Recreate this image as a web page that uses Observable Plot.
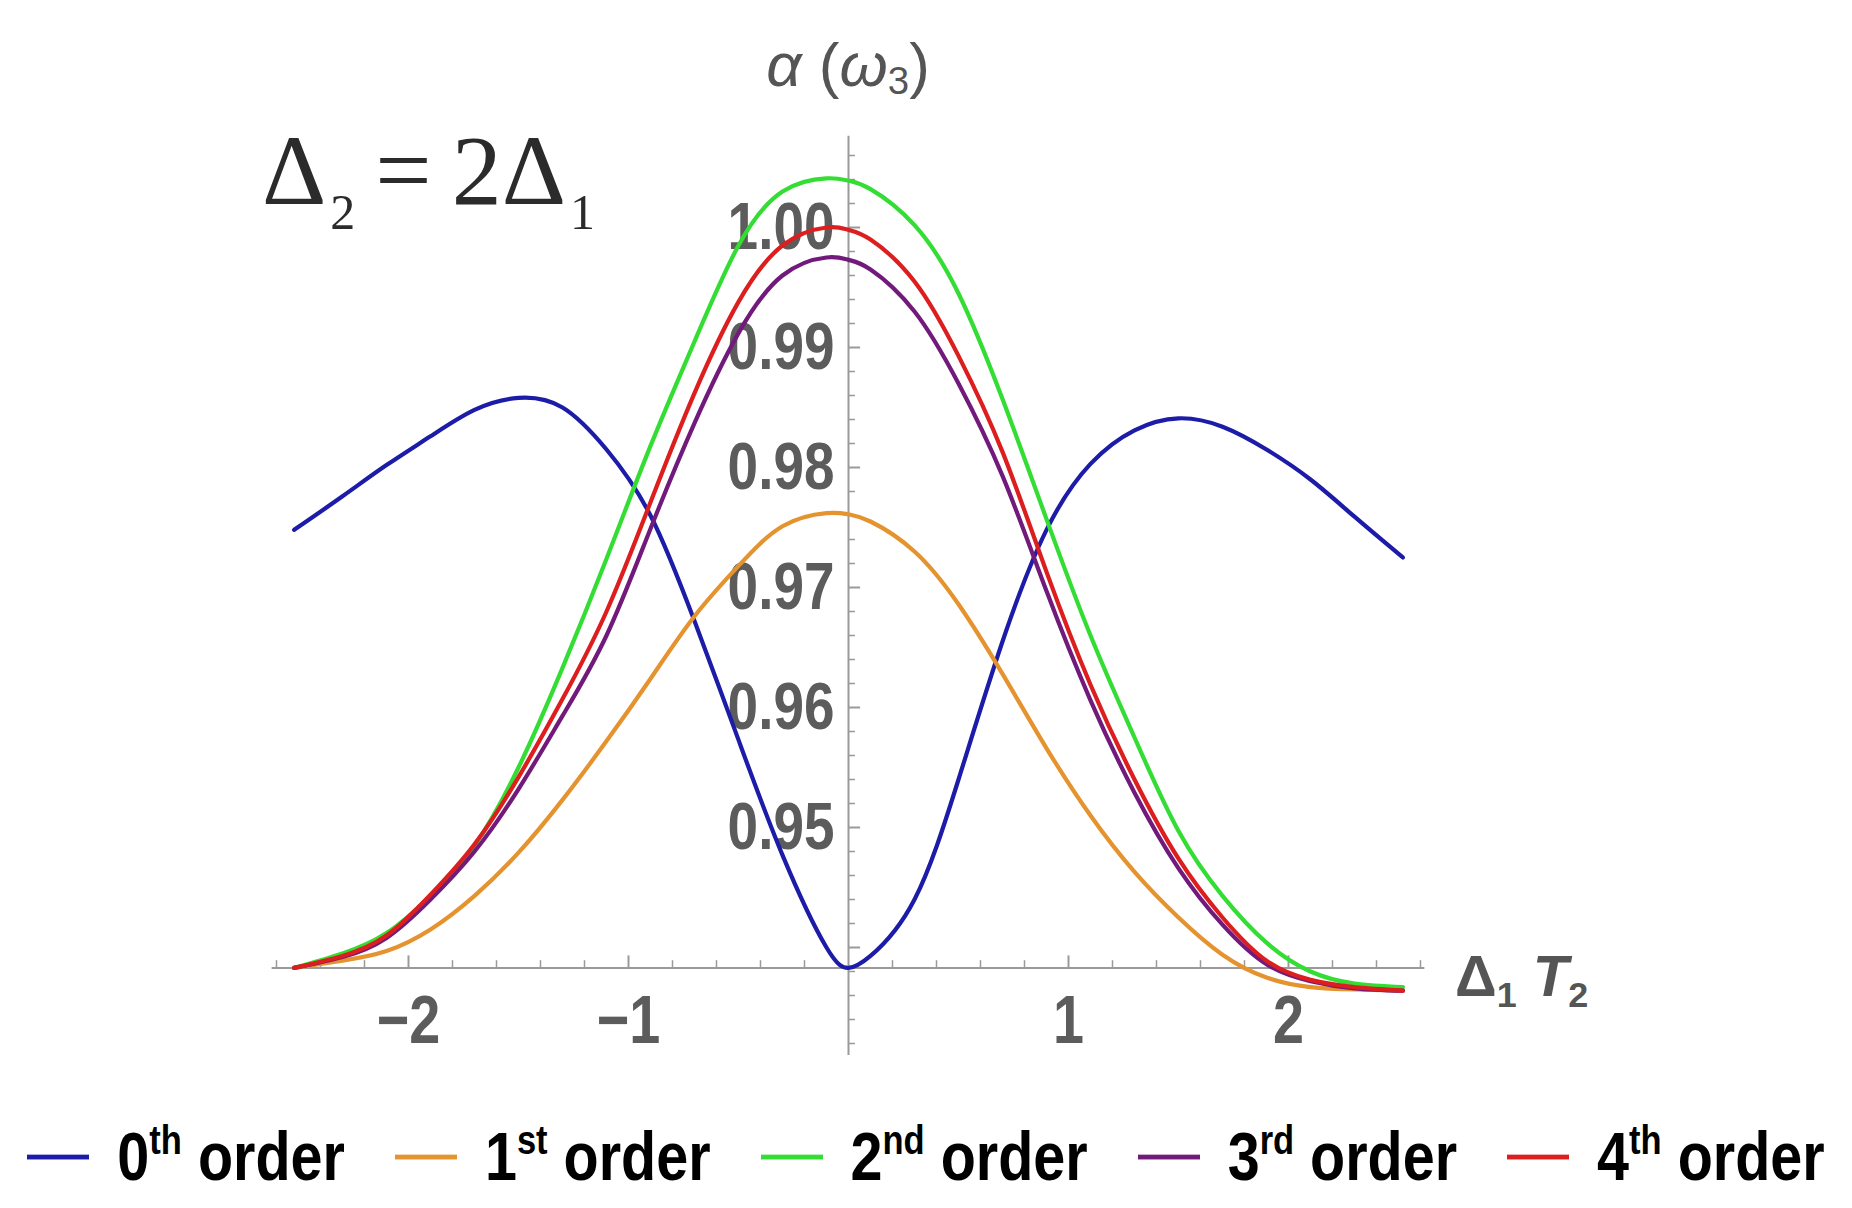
<!DOCTYPE html>
<html>
<head>
<meta charset="utf-8">
<script src="https://cdn.jsdelivr.net/npm/d3@7"></script>
<script src="https://cdn.jsdelivr.net/npm/@observablehq/plot@0.6"></script>
<style>
  html, body { margin: 0; padding: 0; background: #fff; overflow: hidden; }
  #wrap { position: relative; width: 1852px; height: 1208px; }
  .ov { position: absolute; line-height: 1; white-space: nowrap; }
  .sans { font-family: "Liberation Sans", Arial, sans-serif; }
  #legend { position: absolute; left: 0; top: 1128px; width: 1852px; display: flex; justify-content: center; align-items: center; gap: 50px; font-size: 57.5px; font-weight: bold; color: #000; line-height: 1; white-space: nowrap; transform: scaleY(1.2); transform-origin: center; }
  #legend .item { display: flex; align-items: center; flex: 0 0 auto; white-space: nowrap; }
  #legend .sw { width: 62px; height: 4.5px; margin-right: 28px; flex: 0 0 auto; }
  #legend sup { font-size: 0.6em; vertical-align: 0.62em; line-height: 0; }
</style>
</head>
<body>
<div id="wrap"></div>
<script>
// ---- data ----
const xValues = [-2.52,-2.3,-2.1,-1.9,-1.7,-1.5,-1.3,-1.1,-0.9,-0.7,-0.5,-0.3,-0.1,0,0.1,0.3,0.5,0.7,0.9,1.1,1.3,1.5,1.7,1.9,2.1,2.3,2.52];
const order0 = [0.9748,0.9776,0.9802,0.9826,0.9848,0.9858,0.9850,0.9815,0.9760,0.9672,0.9573,0.9477,0.9400,0.9383,0.9393,0.9440,0.9540,0.9655,0.9748,0.9803,0.9831,0.9841,0.9834,0.9815,0.9790,0.9759,0.9725];
const order1 = [0.9383,0.9389,0.9397,0.9415,0.9443,0.9479,0.9523,0.9572,0.9624,0.9676,0.9718,0.9751,0.9762,0.9761,0.9755,0.9730,0.9686,0.9628,0.9566,0.9510,0.9463,0.9425,0.9394,0.9375,0.9367,0.9365,0.9364];
const order2 = [0.9383,0.9395,0.9412,0.9443,0.9485,0.9550,0.9633,0.9724,0.9818,0.9905,0.9985,1.0030,1.0041,1.0039,1.0032,1.0002,0.9945,0.9857,0.9757,0.9660,0.9575,0.9497,0.9443,0.9404,0.9380,0.9370,0.9367];
const order3 = [0.9383,0.9392,0.9408,0.9440,0.9480,0.9532,0.9593,0.9660,0.9749,0.9837,0.9912,0.9960,0.9975,0.9973,0.9965,0.9930,0.9870,0.9793,0.9697,0.9606,0.9529,0.9466,0.9419,0.9386,0.9372,0.9366,0.9364];
const order4 = [0.9383,0.9393,0.9410,0.9444,0.9486,0.9542,0.9607,0.9680,0.9771,0.9862,0.9938,0.9985,1.0000,0.9998,0.9990,0.9955,0.9893,0.9813,0.9713,0.9619,0.9540,0.9474,0.9425,0.9389,0.9373,0.9367,0.9364];

const seriesNames = ["0th order", "1st order", "2nd order", "3rd order", "4th order"];
const seriesSup = ["th", "st", "nd", "rd", "th"];
const seriesDigit = ["0", "1", "2", "3", "4"];
const seriesColors = ["#1c1ca8", "#e5932f", "#33dd33", "#721a7c", "#dc1e1e"];
const seriesValues = [order0, order1, order2, order3, order4];

const xMajorTicks = [-2, -1, 1, 2];
const xTickLabels = ["\u22122", "\u22121", "1", "2"];
const yMajorTicks = [0.94, 0.95, 0.96, 0.97, 0.98, 0.99, 1.00];
const yLabelTicks = [0.95, 0.96, 0.97, 0.98, 0.99, 1.00];
const yTickLabels = ["0.95", "0.96", "0.97", "0.98", "0.99", "1.00"];
const xMinorTicks = d3.range(-2.6, 2.61, 0.2).map(v => +v.toFixed(1)).filter(v => Math.abs(v - Math.round(v)) > 1e-6);
const yMinorTicks = d3.range(0.932, 1.0065, 0.002).map(v => +v.toFixed(3)).filter(v => !yMajorTicks.some(m => Math.abs(m - v) < 1e-6));

const axisOriginY = 0.9383;   // where the horizontal axis crosses
const xDomain = [-2.62, 2.62];
const yDomain = [0.931, 1.0076];

const rows = seriesValues.flatMap((vals, k) => vals.map((v, i) => ({x: xValues[i], y: v, s: seriesNames[k]})));

const sans = '"Liberation Sans", Arial, sans-serif';
const tickY = 0.001, tickYm = 0.0006;   // tick lengths in y units (x-axis ticks)
const tickX = 0.055, tickXm = 0.032;    // tick lengths in x units (y-axis ticks)

const chart = Plot.plot({
  width: 1852,
  height: 1100,
  marginLeft: 271.6,
  marginRight: 427.6,
  marginTop: 135.8,
  marginBottom: 45,
  x: {domain: xDomain, axis: null},
  y: {domain: yDomain, axis: null},
  color: {domain: seriesNames, range: seriesColors},
  marks: [
    Plot.ruleY([axisOriginY], {stroke: "#9a9a9a", strokeWidth: 2}),
    Plot.ruleX([0], {stroke: "#9a9a9a", strokeWidth: 2}),
    Plot.ruleX(xMinorTicks, {x: d => d, y1: axisOriginY, y2: axisOriginY + tickYm, stroke: "#9a9a9a", strokeWidth: 1.5}),
    Plot.ruleX(xMajorTicks, {x: d => d, y1: axisOriginY, y2: axisOriginY + tickY, stroke: "#9a9a9a", strokeWidth: 2}),
    Plot.ruleY(yMinorTicks, {y: d => d, x1: 0, x2: tickXm, stroke: "#9a9a9a", strokeWidth: 1.5}),
    Plot.ruleY(yMajorTicks, {y: d => d, x1: 0, x2: tickX, stroke: "#9a9a9a", strokeWidth: 2}),
    Plot.text(yLabelTicks, {x: 0, y: d => d, text: (d, i) => yTickLabels[i], textAnchor: "end", dx: -14, fontFamily: sans, fontWeight: "bold", fontSize: 67, fill: "#5c5c5c"}),
    Plot.text(xMajorTicks, {x: d => d, y: axisOriginY, text: (d, i) => xTickLabels[i], dy: 53, fontFamily: sans, fontWeight: "bold", fontSize: 68, fill: "#5c5c5c"}),
    Plot.line(rows, {x: "x", y: "y", z: "s", stroke: "s", strokeWidth: 4.2, curve: "natural"})
  ]
});

const wrap = document.getElementById("wrap");
wrap.appendChild(chart);

// condensed look of the reference tick labels: compress glyph widths (positions untouched)
chart.querySelectorAll('g[aria-label="text"] text').forEach(t => {
  const L = t.getComputedTextLength();
  if (L > 0) {
    t.setAttribute("textLength", (L * 0.82).toFixed(1));
    t.setAttribute("lengthAdjust", "spacingAndGlyphs");
  }
});

const title = document.createElement("div");
title.className = "ov sans";
title.style.cssText += "left:0;width:1696px;text-align:center;top:34px;font-size:62px;color:#555;";
title.innerHTML = '<i>\u03b1</i> (<i>\u03c9</i><span style="font-size:0.62em;vertical-align:-0.2em">3</span>)';
wrap.appendChild(title);

const ann = document.createElement("div");
ann.className = "ov";
ann.style.cssText = "left:262px;top:121px;font-family:'Liberation Serif',serif;font-size:100px;color:#2b2b2b;";
ann.innerHTML = '\u0394<span style="font-size:0.5em;vertical-align:-0.5em;margin-left:4px">2</span>\u2009=\u20092\u0394<span style="font-size:0.5em;vertical-align:-0.5em;margin-left:4px">1</span>';
wrap.appendChild(ann);

const xl = document.createElement("div");
xl.className = "ov sans";
xl.style.cssText += "left:1455px;top:947px;font-size:58px;font-weight:bold;color:#555;";
xl.innerHTML = '\u0394<span style="font-size:0.62em;vertical-align:-0.3em">1</span> <i>T</i><span style="font-size:0.62em;vertical-align:-0.3em">2</span>';
wrap.appendChild(xl);

const legend = document.createElement("div");
legend.id = "legend";
legend.className = "sans";
seriesNames.forEach((name, k) => {
  const item = document.createElement("div");
  item.className = "item";
  item.innerHTML = `<span class="sw" style="background:${seriesColors[k]}"></span><span>${seriesDigit[k]}<sup>${seriesSup[k]}</sup> order</span>`;
  legend.appendChild(item);
});
wrap.appendChild(legend);
</script>
</body>
</html>
